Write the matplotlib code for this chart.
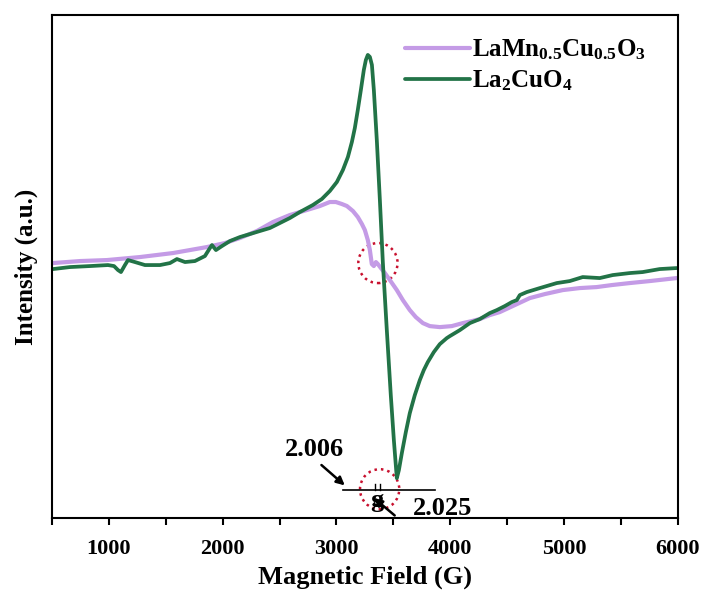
import matplotlib
matplotlib.use("Agg")
import matplotlib.pyplot as plt
from matplotlib.patches import Ellipse
import numpy as np

plt.rcParams['font.family'] = ['Liberation Serif', 'DejaVu Serif']
plt.rcParams['font.weight'] = 'bold'
plt.rcParams['mathtext.fontset'] = 'custom'
plt.rcParams['mathtext.rm'] = 'Liberation Serif:bold'
plt.rcParams['mathtext.it'] = 'Liberation Serif:bold'
plt.rcParams['mathtext.bf'] = 'Liberation Serif:bold'
plt.rcParams['mathtext.default'] = 'rm'

# EPR spectra (field in G, intensity in a.u.)
field_cu = [509, 658, 834, 992, 1045, 1080, 1106, 1141, 1168, 1229, 1317, 1449,
            1537, 1598, 1669, 1756, 1844, 1888, 1906, 1941, 1994, 2064, 2152,
            2240, 2327, 2415, 2503, 2591, 2679, 2793, 2872, 2942, 3004, 3057,
            3101, 3136, 3162, 3188, 3215, 3241, 3259, 3276, 3294, 3312, 3329,
            3355, 3382, 3408, 3443, 3478, 3505, 3531, 3549, 3575, 3610, 3645,
            3689, 3733, 3768, 3803, 3856, 3909, 3970, 3997, 4085, 4173, 4260,
            4348, 4410, 4480, 4542, 4586, 4612, 4673, 4788, 4937, 5051, 5165,
            5315, 5429, 5578, 5692, 5842, 5991]
int_cu = [-0.01, 0.01, 0.02, 0.03, 0.02, -0.02, -0.04, 0.03, 0.08, 0.06, 0.03, 0.03,
          0.05, 0.09, 0.06, 0.07, 0.12, 0.20, 0.23, 0.18, 0.22, 0.27, 0.31,
          0.34, 0.37, 0.40, 0.45, 0.50, 0.56, 0.63, 0.69, 0.77, 0.86, 0.98,
          1.11, 1.26, 1.40, 1.58, 1.78, 1.98, 2.08, 2.13, 2.11, 2.03, 1.78,
          1.28, 0.68, 0.06, -0.62, -1.27, -1.72, -2.10, -2.02, -1.85, -1.64, -1.45,
          -1.27, -1.12, -1.02, -0.94, -0.84, -0.76, -0.70, -0.68, -0.62, -0.55, -0.51,
          -0.45, -0.42, -0.38, -0.34, -0.32, -0.27, -0.24, -0.20, -0.15, -0.13, -0.09,
          -0.10, -0.07, -0.05, -0.04, -0.01, 0.0]

field_mn = [509, 746, 983, 1273, 1563, 1862, 2020, 2152, 2301, 2442, 2591,
            2740, 2855, 2942, 2995, 3048, 3092, 3145, 3188, 3224, 3250, 3276,
            3294, 3311, 3329, 3347, 3364, 3391, 3426, 3470, 3531, 3584, 3645,
            3698, 3760, 3821, 3909, 4014, 4111, 4190, 4260, 4348, 4436, 4568,
            4700, 4832, 4990, 5139, 5288, 5420, 5578, 5754, 5991]
int_mn = [0.05, 0.07, 0.08, 0.11, 0.15, 0.21, 0.25, 0.30, 0.37, 0.46, 0.53,
          0.58, 0.62, 0.66, 0.66, 0.64, 0.62, 0.57, 0.51, 0.44, 0.38, 0.28,
          0.18, 0.04, 0.02, 0.06, 0.04, 0.00, -0.05, -0.12, -0.22, -0.32, -0.42,
          -0.49, -0.55, -0.58, -0.59, -0.58, -0.55, -0.53, -0.51, -0.47, -0.44, -0.37,
          -0.30, -0.26, -0.22, -0.20, -0.19, -0.17, -0.15, -0.13, -0.10]

labels = ['LaMn$_{0.5}$Cu$_{0.5}$O$_3$', 'La$_2$CuO$_4$']
colors = ['#c49be6', '#227347']

fig = plt.figure(figsize=(7.03, 5.95), dpi=100)
ax = fig.add_axes([0.074, 0.129, 0.890, 0.846])

ax.plot(field_mn, int_mn, color=colors[0], lw=3.0, label=labels[0],
        solid_joinstyle='round', solid_capstyle='round')
ax.plot(field_cu, int_cu, color=colors[1], lw=2.7, label=labels[1],
        solid_joinstyle='round', solid_capstyle='round')

ax.set_xlim(500, 6000)
ax.set_ylim(-2.50, 2.53)
ax.set_xticks([1000, 2000, 3000, 4000, 5000, 6000])
ax.set_xticks(np.arange(500, 6001, 500), minor=True)
ax.set_yticks([])
ax.tick_params(axis='x', which='both', direction='out', length=5, width=1.5,
               labelsize=16, pad=10)
for lab in ax.get_xticklabels():
    lab.set_fontweight('bold')
for sp in ax.spines.values():
    sp.set_linewidth(1.5)

ax.set_xlabel('Magnetic Field (G)', fontsize=19, fontweight='bold', labelpad=5)
ax.set_ylabel('Intensity (a.u.)', fontsize=18, fontweight='bold', labelpad=10)

leg = ax.legend(loc='upper left', bbox_to_anchor=(0.54, 0.985), frameon=False,
                prop={'size': 18, 'weight': 'bold'}, handlelength=2.6,
                handletextpad=0.1, labelspacing=0.25, borderaxespad=0.2)

# g-factor marker
ax.plot([3057, 3865], [-2.22, -2.22], color='black', lw=1.2)
ax.plot([3340, 3340], [-2.22, -2.16], color='black', lw=1.0)
ax.plot([3385, 3385], [-2.22, -2.16], color='black', lw=1.0)
ax.text(3355, -2.32, 'g', ha='center', va='center', fontsize=19, fontweight='bold')
ax.text(2810, -1.81, '2.006', ha='center', va='center', fontsize=19, fontweight='bold')
ax.text(3930, -2.40, '2.025', ha='center', va='center', fontsize=19, fontweight='bold')
ax.annotate('', xy=(3092, -2.19), xytext=(2850, -1.95),
            arrowprops=dict(arrowstyle='-|>', color='black', lw=1.8, mutation_scale=12))
ax.annotate('', xy=(3311, -2.28), xytext=(3531, -2.49),
            arrowprops=dict(arrowstyle='-|>', color='black', lw=1.8, mutation_scale=12))

# highlighted regions
for cx, cy in [(3365, 0.05), (3380, -2.21)]:
    ax.add_patch(Ellipse((cx, cy), width=345, height=0.40, fill=False,
                         edgecolor='#c8102e', lw=1.8, linestyle=(0, (1, 1.6))))

fig.savefig('out.png', dpi=100)
